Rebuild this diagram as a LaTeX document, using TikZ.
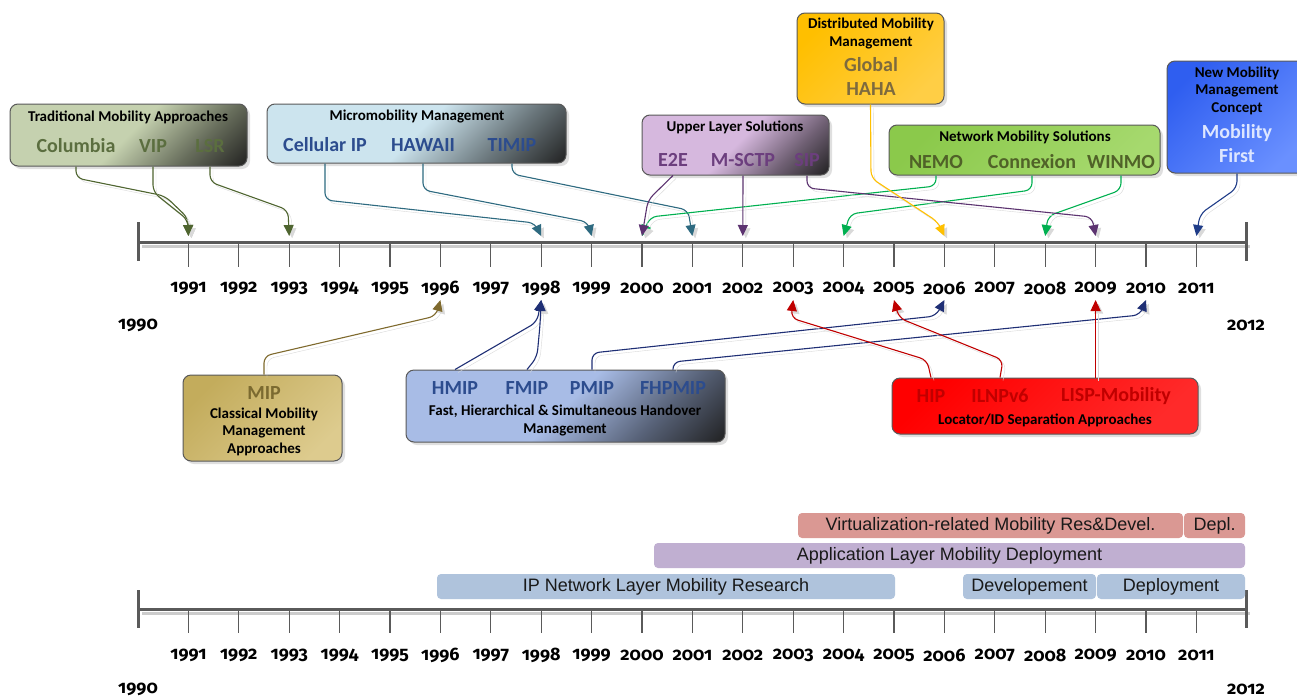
\documentclass[tikz,border=0pt]{standalone}
\usepackage{fontspec}
\setmainfont{Carlito}
\newfontfamily\barfont{Liberation Sans}
\newfontfamily\yearfont[Numbers=OldStyle]{Fira Sans}
\usetikzlibrary{arrows.meta}
\usetikzlibrary{positioning}
\usetikzlibrary{shadows}

% 颜色
\definecolor{tradL}{HTML}{C5D1AF}
\definecolor{tradI}{HTML}{5B6E3F}
\definecolor{tradA}{HTML}{4F6530}
\definecolor{microL}{HTML}{CCE4EE}
\definecolor{microI}{HTML}{2C4C8E}
\definecolor{microA}{HTML}{2E6A80}
\definecolor{upperL}{HTML}{D6B8DE}
\definecolor{upperI}{HTML}{6C3E7E}
\definecolor{upperA}{HTML}{5C3370}
\definecolor{dmmL}{HTML}{FFBF00}
\definecolor{dmmR}{HTML}{FFCE45}
\definecolor{dmmI}{HTML}{7D6A3E}
\definecolor{dmmA}{HTML}{FFC000}
\definecolor{netL}{HTML}{8BC94B}
\definecolor{netR}{HTML}{A6D96E}
\definecolor{netI}{HTML}{506228}
\definecolor{netA}{HTML}{00B050}
\definecolor{newL}{HTML}{2F5EF0}
\definecolor{newR}{HTML}{6A90FF}
\definecolor{newI}{HTML}{DDE6FF}
\definecolor{newA}{HTML}{1F3C88}
\definecolor{mipL}{HTML}{C3AC5C}
\definecolor{mipR}{HTML}{DDCB8E}
\definecolor{mipI}{HTML}{7B6A30}
\definecolor{mipA}{HTML}{7F6A2E}
\definecolor{fastL}{HTML}{A8BCE6}
\definecolor{fastI}{HTML}{2C4C8E}
\definecolor{fastA}{HTML}{1F2F75}
\definecolor{locL}{HTML}{FF0000}
\definecolor{locR}{HTML}{FF2A2A}
\definecolor{locI}{HTML}{C00000}
\definecolor{locA}{HTML}{C00000}
\definecolor{ipblue}{HTML}{AFC3DC}
\definecolor{applvio}{HTML}{C0AFD1}
\definecolor{virtred}{HTML}{DA9893}
\definecolor{axisgray}{HTML}{5A5A5A}

% 方框渐变：左上浅色，右下角变黑
\colorlet{boxc}{white}
\pgfdeclareverticalshading[boxc]{boxfade}{100bp}{
  color(0bp)=(black); color(14bp)=(black!88); color(31bp)=(boxc!52!black);
  color(50bp)=(boxc); color(100bp)=(boxc)}

\tikzset{
  box/.style={rounded corners=8pt, draw=black!65, line width=1pt, inner sep=0pt,
    drop shadow={shadow xshift=3pt, shadow yshift=-3pt, opacity=0.25}},
  darkbox/.style={box, shade, shading=boxfade, shading angle=45,
    /utils/exec={\colorlet{boxc}{#1}}},
  litebox/.style 2 args={box, top color=#1, bottom color=#2, shading angle=45},
  title/.style={font=\fontsize{15}{17.5}\selectfont\bfseries, inner sep=0pt, align=center},
  item/.style={font=\fontsize{20}{24}\selectfont\bfseries, inner sep=0pt, text=#1, align=center},
  year/.style={font=\yearfont\bfseries\fontsize{18}{18}\selectfont, inner sep=0pt},
  bar/.style={rounded corners=4pt, inner sep=0pt, minimum height=25pt,
    font=\barfont\fontsize{18}{20}\selectfont, text=black!90},
  conn/.style={draw=#1, line width=1.1pt, rounded corners=7pt,
    -{Triangle[width=10pt,length=11pt]},
    preaction={draw=black!15, transform canvas={shift={(3pt,-3pt)}}}},
  axisline/.style={axisgray, line width=3pt},
  tick/.style={axisgray, line width=1.3pt},
}

\begin{document}
\begin{tikzpicture}[x=1pt, y=-1pt]
  \fill[white] (0,0) rectangle (1297,699);
  \useasboundingbox (0,0) rectangle (1297,699);

  % 上时间轴
  \draw[black!20, line width=3pt] (142,246) -- (1250,246);
  \draw[axisline] (138,242) -- (1246,242);
  \draw[axisline] (138,222) -- (138,261);
  \draw[axisline] (1246,222) -- (1246,261);
  \foreach \i in {1,...,21}
  {
    \pgfmathsetmacro\xx{138+\i*50.4}
    \pgfmathtruncatemacro\yr{1990+\i}
    \draw[tick] (\xx,243) -- (\xx,267);
    \node[year] (y\yr) at (\xx,288) {\yr};
    \coordinate (a\yr) at (\xx,236);% 上方箭头终点
    \coordinate (u\yr) at (\xx,300);% 下方箭头终点
  }
  \node[year] (y1990) at (138,325) {1990};
  \node[year] (y2012) at (1246,325) {2012};

  % 下时间轴
  \draw[black!20, line width=3pt] (142,613) -- (1250,613);
  \draw[axisline] (138,609) -- (1246,609);
  \draw[axisline] (138,590) -- (138,628);
  \draw[axisline] (1246,590) -- (1246,628);
  \foreach \i in {1,...,21}
  {
    \pgfmathsetmacro\xx{138+\i*50.4}
    \pgfmathtruncatemacro\yr{1990+\i}
    \draw[tick] (\xx,610) -- (\xx,633);
    \node[year] (z\yr) at (\xx,655) {\yr};
  }
  \node[year] (z1990) at (138,689) {1990};
  \node[year] (z2012) at (1246,689) {2012};

  % 阶段条
  \node[bar, fill=ipblue, minimum width=458pt] (ipres) at (666,586.5) {IP Network Layer Mobility Research};
  \node[bar, fill=ipblue, minimum width=133pt] (devel) at (1029.5,586.5) {Developement};
  \node[bar, fill=ipblue, minimum width=148pt] (deploy) at (1171,586.5) {Deployment};
  \node[bar, fill=applvio, minimum width=591pt] (appl) at (949.5,555.5) {Application Layer Mobility Deployment};
  \node[bar, fill=virtred, minimum width=385pt] (virt) at (990.5,525.5) {Virtualization-related Mobility Res\&Devel.};
  \node[bar, fill=virtred, minimum width=61pt] (depl) at (1214.5,525.5) {Depl.};

  % 上方方框
  \node[darkbox=tradL, minimum width=237pt, minimum height=62pt] (trad) at (128.5,135) {};
  \node[title] (tradT) at (128,117) {Traditional Mobility Approaches};
  \node[item=tradI] (columbia) at (76,146) {Columbia};
  \node[item=tradI] (vip) at (153,146) {VIP};
  \node[item=tradI] (lsr) at (210,146) {LSR};

  \node[darkbox=microL, minimum width=299pt, minimum height=59pt] (micro) at (416.5,133.5) {};
  \node[title] (microT) at (417,117) {Micromobility Management};
  \node[item=microI] (cellip) at (325,145) {Cellular IP};
  \node[item=microI] (hawaii) at (423,145) {HAWAII};
  \node[item=microI] (timip) at (512,145) {TIMIP};

  \node[darkbox=upperL, minimum width=187pt, minimum height=60pt] (upper) at (735.5,145) {};
  \node[title] (upperT) at (735,127) {Upper Layer Solutions};
  \node[item=upperI] (etoe) at (673,160) {E2E};
  \node[item=upperI] (msctp) at (743,160) {M-SCTP};
  \node[item=upperI] (sip) at (807,160) {SIP};

  \node[litebox={dmmL}{dmmR}, minimum width=147pt, minimum height=91pt] (dmm) at (870.5,58.5) {};
  \node[title] (dmmT) at (871,33.5) {Distributed Mobility\\Management};
  \node[item=dmmI] (dmmI) at (871,76) {Global\\HAHA};

  \node[litebox={netL}{netR}, minimum width=271pt, minimum height=50pt] (netmob) at (1024.5,150) {};
  \node[title] (netmobT) at (1025,137) {Network Mobility Solutions};
  \node[item=netI] (nemo) at (936,162) {NEMO};
  \node[item=netI] (connexion) at (1032,162) {Connexion};
  \node[item=netI] (winmo) at (1121,162) {WINMO};

  \node[litebox={newL}{newR}, minimum width=140pt, minimum height=112pt] (newmc) at (1237,117) {};
  \node[title] (newmcT) at (1237,90.5) {New Mobility\\Management\\Concept};
  \node[item=newI] (mobfirst) at (1237,144) {Mobility\\First};

  % 下方方框
  \node[litebox={mipL}{mipR}, minimum width=159pt, minimum height=86pt] (classic) at (262.5,418) {};
  \node[item=mipI] (mip) at (264,393) {MIP};
  \node[title] (classicT) at (264,431.5) {Classical Mobility\\Management\\Approaches};

  \node[darkbox=fastL, minimum width=319pt, minimum height=72pt] (fast) at (565.5,406) {};
  \node[item=fastI] (hmip) at (455,388) {HMIP};
  \node[item=fastI] (fmip) at (527,388) {FMIP};
  \node[item=fastI] (pmip) at (592,388) {PMIP};
  \node[item=fastI] (fhpmip) at (673,388) {FHPMIP};
  \node[title] (fastT) at (565,420.5) {Fast, Hierarchical \& Simultaneous Handover\\Management};

  \node[litebox={locL}{locR}, minimum width=306pt, minimum height=56pt] (locid) at (1045,406) {};
  \node[item=locI] (hip) at (931,396) {HIP};
  \node[item=locI] (ilnp) at (1000,396) {ILNPv6};
  \node[item=locI] (lisp) at (1116,396) {LISP-Mobility};
  \node[title] (locidT) at (1045,420) {Locator/ID Separation Approaches};

  % 指示线
  \draw[conn=tradA] (columbia |- trad.south) -- (76,178) -- (165,196) -- (188,218) -- (a1991);
  \draw[conn=tradA] (vip |- trad.south) -- (153,192) -- (188,220) -- (a1991);
  \draw[conn=tradA] (lsr |- trad.south) -- (210,182) -- (288,210) -- (a1993);

  \draw[conn=microA] (cellip |- micro.south) -- (325,200) -- (535,223) -- (a1998);
  \draw[conn=microA] (hawaii |- micro.south) -- (423,190) -- (588,222) -- (a1999);
  \draw[conn=microA] (timip |- micro.south) -- (512,174) -- (688,210) -- (a2001);

  \draw[conn=netA] (nemo |- netmob.south) -- (936,186) -- (650,217) -- (a2000);
  \draw[conn=netA] (connexion |- netmob.south) -- (1032,190) -- (850,214) -- (a2004);
  \draw[conn=netA] (winmo |- netmob.south) -- (1121,190) -- (1048,216) -- (a2008);

  \draw[conn=upperA] (etoe |- upper.south) -- (648,200) -- (a2000);
  \draw[conn=upperA] (msctp |- upper.south) -- (a2002);
  \draw[conn=upperA] (sip |- upper.south) -- (807,188) -- (1092,217) -- (a2009);

  \draw[conn=dmmA] (dmm.south) -- (871,178) -- (938,222) -- (a2006);
  \draw[conn=newA] (newmc.south) -- (1237,188) -- (1200,214) -- (a2011);

  \draw[conn=mipA] (mip |- classic.north) -- (264,356) -- (436,316) -- (u1996);

  \draw[conn=fastA] (hmip |- fast.north) -- (537,322) -- (u1998);
  \draw[conn=fastA] (fmip |- fast.north) -- (537,357) -- (540,325) -- (u1998);
  \draw[conn=fastA] (pmip |- fast.north) -- (592,353) -- (936,316) -- (u2006);
  \draw[conn=fastA] (fhpmip |- fast.north) -- (673,362) -- (1140,315) -- (u2010);

  \draw[conn=locA] (hip |- locid.north) -- (927,360) -- (791,318) -- (u2003);
  \draw[conn=locA] (ilnp |- locid.north) -- (1003,360) -- (899,318) -- (u2005);
  \draw[conn=locA] (u2009 |- locid.north) -- (u2009);
\end{tikzpicture}
\end{document}
